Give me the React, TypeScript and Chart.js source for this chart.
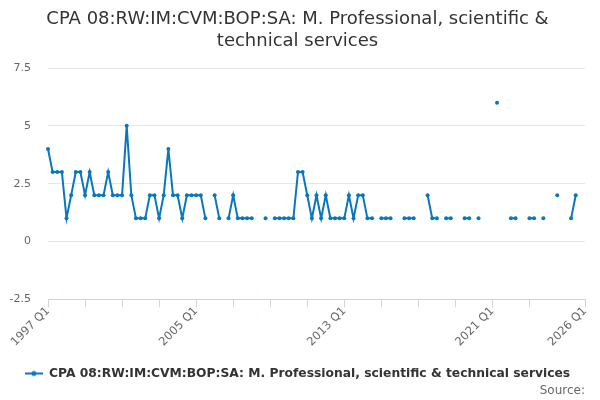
import React, { useEffect, useRef } from 'react';
import { Chart, registerables } from 'chart.js';

Chart.register(...registerables);

const TITLE_LINES = ['CPA 08:RW:IM:CVM:BOP:SA: M. Professional, scientific &', 'technical services'];
const SERIES_NAME = 'CPA 08:RW:IM:CVM:BOP:SA: M. Professional, scientific & technical services';
const SOURCE_TEXT = 'Source:';

const FIRST_YEAR = 1997;
const LAST_LABEL = '2026 Q1';
const quarters: string[] = [];
for (let y = FIRST_YEAR; ; y++) {
  let done = false;
  for (let q = 1; q <= 4; q++) {
    const l = `${y} Q${q}`;
    quarters.push(l);
    if (l === LAST_LABEL) { done = true; break; }
  }
  if (done) break;
}

const values: (number | null)[] = [
  // 1997
  4, 3, 3, 3,
  // 1998
  1, 2, 3, 3,
  // 1999
  2, 3, 2, 2,
  // 2000
  2, 3, 2, 2,
  // 2001
  2, 5, 2, 1,
  // 2002
  1, 1, 2, 2,
  // 2003
  1, 2, 4, 2,
  // 2004
  2, 1, 2, 2,
  // 2005
  2, 2, 1, null,
  // 2006
  2, 1, null, 1,
  // 2007
  2, 1, 1, 1,
  // 2008
  1, null, null, 1,
  // 2009
  null, 1, 1, 1,
  // 2010
  1, 1, 3, 3,
  // 2011
  2, 1, 2, 1,
  // 2012
  2, 1, 1, 1,
  // 2013
  1, 2, 1, 2,
  // 2014
  2, 1, 1, null,
  // 2015
  1, 1, 1, null,
  // 2016
  null, 1, 1, 1,
  // 2017
  null, null, 2, 1,
  // 2018
  1, null, 1, 1,
  // 2019
  null, null, 1, 1,
  // 2020
  null, 1, null, null,
  // 2021
  null, 6, null, null,
  // 2022
  1, 1, null, null,
  // 2023
  1, 1, null, 1,
  // 2024
  null, null, 2, null,
  // 2025
  null, 1, 2, null,
  // 2026
  null,
];

const LABELED_TICKS = ['1997 Q1', '2005 Q1', '2013 Q1', '2021 Q1', '2026 Q1'];
const TICK_MARKS = [
  '1997 Q1', '1999 Q1', '2001 Q1', '2003 Q1', '2005 Q1', '2007 Q1', '2009 Q1', '2011 Q1',
  '2013 Q1', '2015 Q1', '2017 Q1', '2019 Q1', '2021 Q1', '2023 Q1', '2026 Q1',
];
const Y_MIN = -2.5;
const Y_MAX = 7.5;
const Y_STEP = 2.5;

const LINE_COLOR = '#0a77bd';
const FONT = 'DejaVu Sans';

function legendSymbol(): HTMLCanvasElement {
  const c = document.createElement('canvas');
  c.width = 18;
  c.height = 8;
  const ctx = c.getContext('2d')!;
  ctx.strokeStyle = LINE_COLOR;
  ctx.lineWidth = 2;
  ctx.beginPath();
  ctx.moveTo(0, 4);
  ctx.lineTo(18, 4);
  ctx.stroke();
  ctx.fillStyle = LINE_COLOR;
  ctx.beginPath();
  ctx.arc(9, 4, 2.5, 0, Math.PI * 2);
  ctx.fill();
  return c;
}

export default function App() {
  const ref = useRef<HTMLCanvasElement | null>(null);

  useEffect(() => {
    if (!ref.current) return;
    const symbol = legendSymbol();
    const chart = new Chart(ref.current, {
      type: 'line',
      data: {
        labels: quarters,
        datasets: [
          {
            label: SERIES_NAME,
            data: values,
            borderColor: LINE_COLOR,
            backgroundColor: LINE_COLOR,
            pointBackgroundColor: LINE_COLOR,
            pointBorderColor: LINE_COLOR,
            borderWidth: 2,
            pointRadius: 2,
            pointBorderWidth: 0,
            pointHoverRadius: 3,
            spanGaps: false,
            tension: 0,
          },
        ],
      },
      options: {
        animation: false,
        responsive: false,
        maintainAspectRatio: false,
        devicePixelRatio: 1,
        layout: { padding: { left: 10, right: 15, top: 0, bottom: 2 } },
        plugins: {
          title: {
            display: true,
            text: TITLE_LINES,
            color: '#333333',
            font: { family: FONT, size: 18, weight: 'normal', lineHeight: 1.25 },
            padding: { top: 8, bottom: 15 },
          },
          subtitle: {
            display: true,
            position: 'bottom',
            align: 'end',
            text: SOURCE_TEXT,
            color: '#666666',
            font: { family: FONT, size: 12, weight: 'normal' },
            padding: { top: -6, bottom: 0 },
          },
          legend: {
            display: true,
            position: 'bottom',
            labels: {
              usePointStyle: true,
              pointStyle: symbol,
              pointStyleWidth: 18,
              color: '#333333',
              font: { family: FONT, size: 12.3, weight: 'bold' },
              padding: 8,
            },
          },
          tooltip: { enabled: false },
        },
        scales: {
          x: {
            type: 'category',
            offset: false,
            afterFit: (scale: any) => {
              scale.paddingLeft = 0;
              scale.paddingRight = 0;
              scale.height = 60;
            },
            grid: {
              drawOnChartArea: false,
              drawTicks: true,
              tickLength: 8,
              color: (ctx: any) =>
                TICK_MARKS.includes(quarters[ctx.index]) ? '#ccd6eb' : 'rgba(0,0,0,0)',
            },
            border: { color: '#ccd6eb', width: 1 },
            ticks: {
              autoSkip: false,
              maxRotation: 45,
              minRotation: 45,
              color: '#666666',
              font: { family: FONT, size: 11.5 },
              padding: -3,
              callback: (_v: any, i: number) =>
                LABELED_TICKS.includes(quarters[i]) ? quarters[i] : '',
            },
          },
          y: {
            min: Y_MIN,
            max: Y_MAX,
            afterFit: (scale: any) => {
              scale.width = 38;
            },
            grid: { color: '#e6e6e6', drawTicks: false },
            border: { display: false },
            ticks: {
              stepSize: Y_STEP,
              color: '#666666',
              font: { family: FONT, size: 11 },
              padding: 17,
            },
          },
        },
      },
    });
    return () => chart.destroy();
  }, []);

  return (
    <div style={{ position: 'absolute', left: 0, top: 0, width: 600, height: 400, background: '#fff' }}>
      <canvas ref={ref} width={600} height={400} />
    </div>
  );
}
